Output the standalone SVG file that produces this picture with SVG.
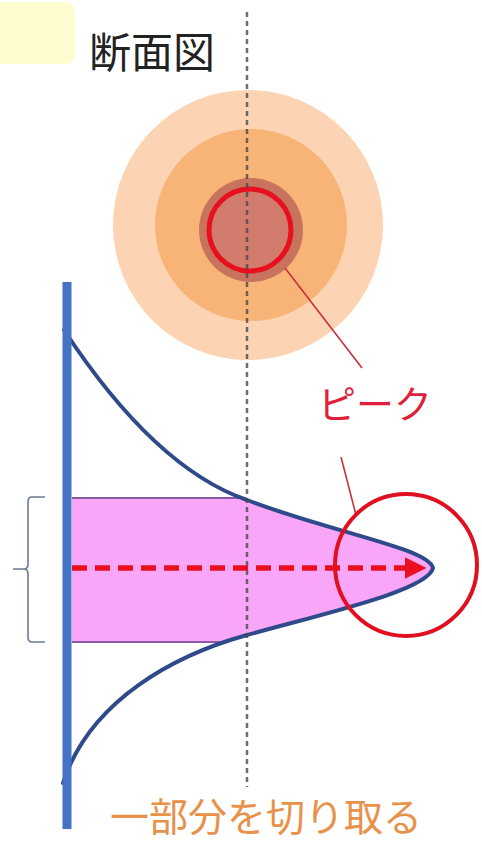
<svg xmlns="http://www.w3.org/2000/svg" width="482" height="841" viewBox="0 0 482 841">
<style>
.jp{font-family:"Noto Sans CJK JP","Noto Sans CJK SC",sans-serif}
.curve{fill:none;stroke:#2f4a8a;stroke-width:4;stroke-linecap:round}
.lead{fill:none;stroke:#c8303a;stroke-width:1.6}
</style>
<defs>
<marker id="ah" markerWidth="4" markerHeight="4" refX="3" refY="2" orient="auto" markerUnits="strokeWidth">
<path d="M0,0 L4,2 L0,4 Z" fill="#e81020"/>
</marker>
</defs>
<rect width="482" height="841" fill="#ffffff"/>
<g id="label-box"><rect x="-10" y="2" width="85" height="62" rx="9" fill="#fefdd0"/></g>
<g id="title"><text class="jp" x="89" y="68" font-size="42" fill="#222">断面図</text></g>
<g id="cross-section">
<circle cx="248" cy="225" r="135" fill="#fcd4b3"/>
<circle cx="251" cy="225" r="96" fill="#f8b476"/>
<circle cx="251" cy="230" r="52" fill="#c8735d"/>
<circle cx="250" cy="230" r="41" fill="#d27c6e" stroke="#e8101e" stroke-width="5"/>
</g>
<g id="profile">
<path d="M72,498 L241,498 L247,500 C330,532 428,548 433,568 C428,590 330,612 247,635 L228,642 L72,642 Z" fill="#f9a6f9"/>
<path d="M72,498 L242,498 M72,642 L228,642" fill="none" stroke="#8a5aa8" stroke-width="2"/>
<path class="curve" d="M64,330 C110,400 172,474 247,500 C330,532 428,548 433,568 C428,590 330,612 247,635 C175,655 90,700 63,783"/>
<line x1="67" y1="282" x2="67" y2="829" stroke="#4472c4" stroke-width="9"/>
</g>
<g id="brace"><path d="M45,497 L32,497 Q28,497 28,502 L28,564 Q28,569 24,569 L13,569 M24,569 Q28,569 28,574 L28,637 Q28,642 32,642 L45,642" fill="none" stroke="#6b7896" stroke-width="1.6"/></g>
<g id="connectors">
<line x1="247" y1="12" x2="247" y2="787" stroke="#4a4a4a" stroke-width="2.5" stroke-dasharray="5 4" opacity="0.8"/>
<line class="lead" x1="285" y1="268" x2="362" y2="368"/>
<line class="lead" x1="341" y1="457" x2="356" y2="515"/>
<line x1="72" y1="568" x2="421" y2="568" stroke="#e81020" stroke-width="5.5" stroke-dasharray="15 8" marker-end="url(#ah)"/>
</g>
<g id="peak-circle"><circle cx="406" cy="565" r="71" fill="none" stroke="#e01020" stroke-width="4"/></g>
<g id="peak-label"><text class="jp" x="318" y="418" font-size="38" fill="#e0203a">ピーク</text></g>
<g id="caption"><text class="jp" x="110" y="831" font-size="39" fill="#e8914a">一部分を切り取る</text></g>
</svg>
